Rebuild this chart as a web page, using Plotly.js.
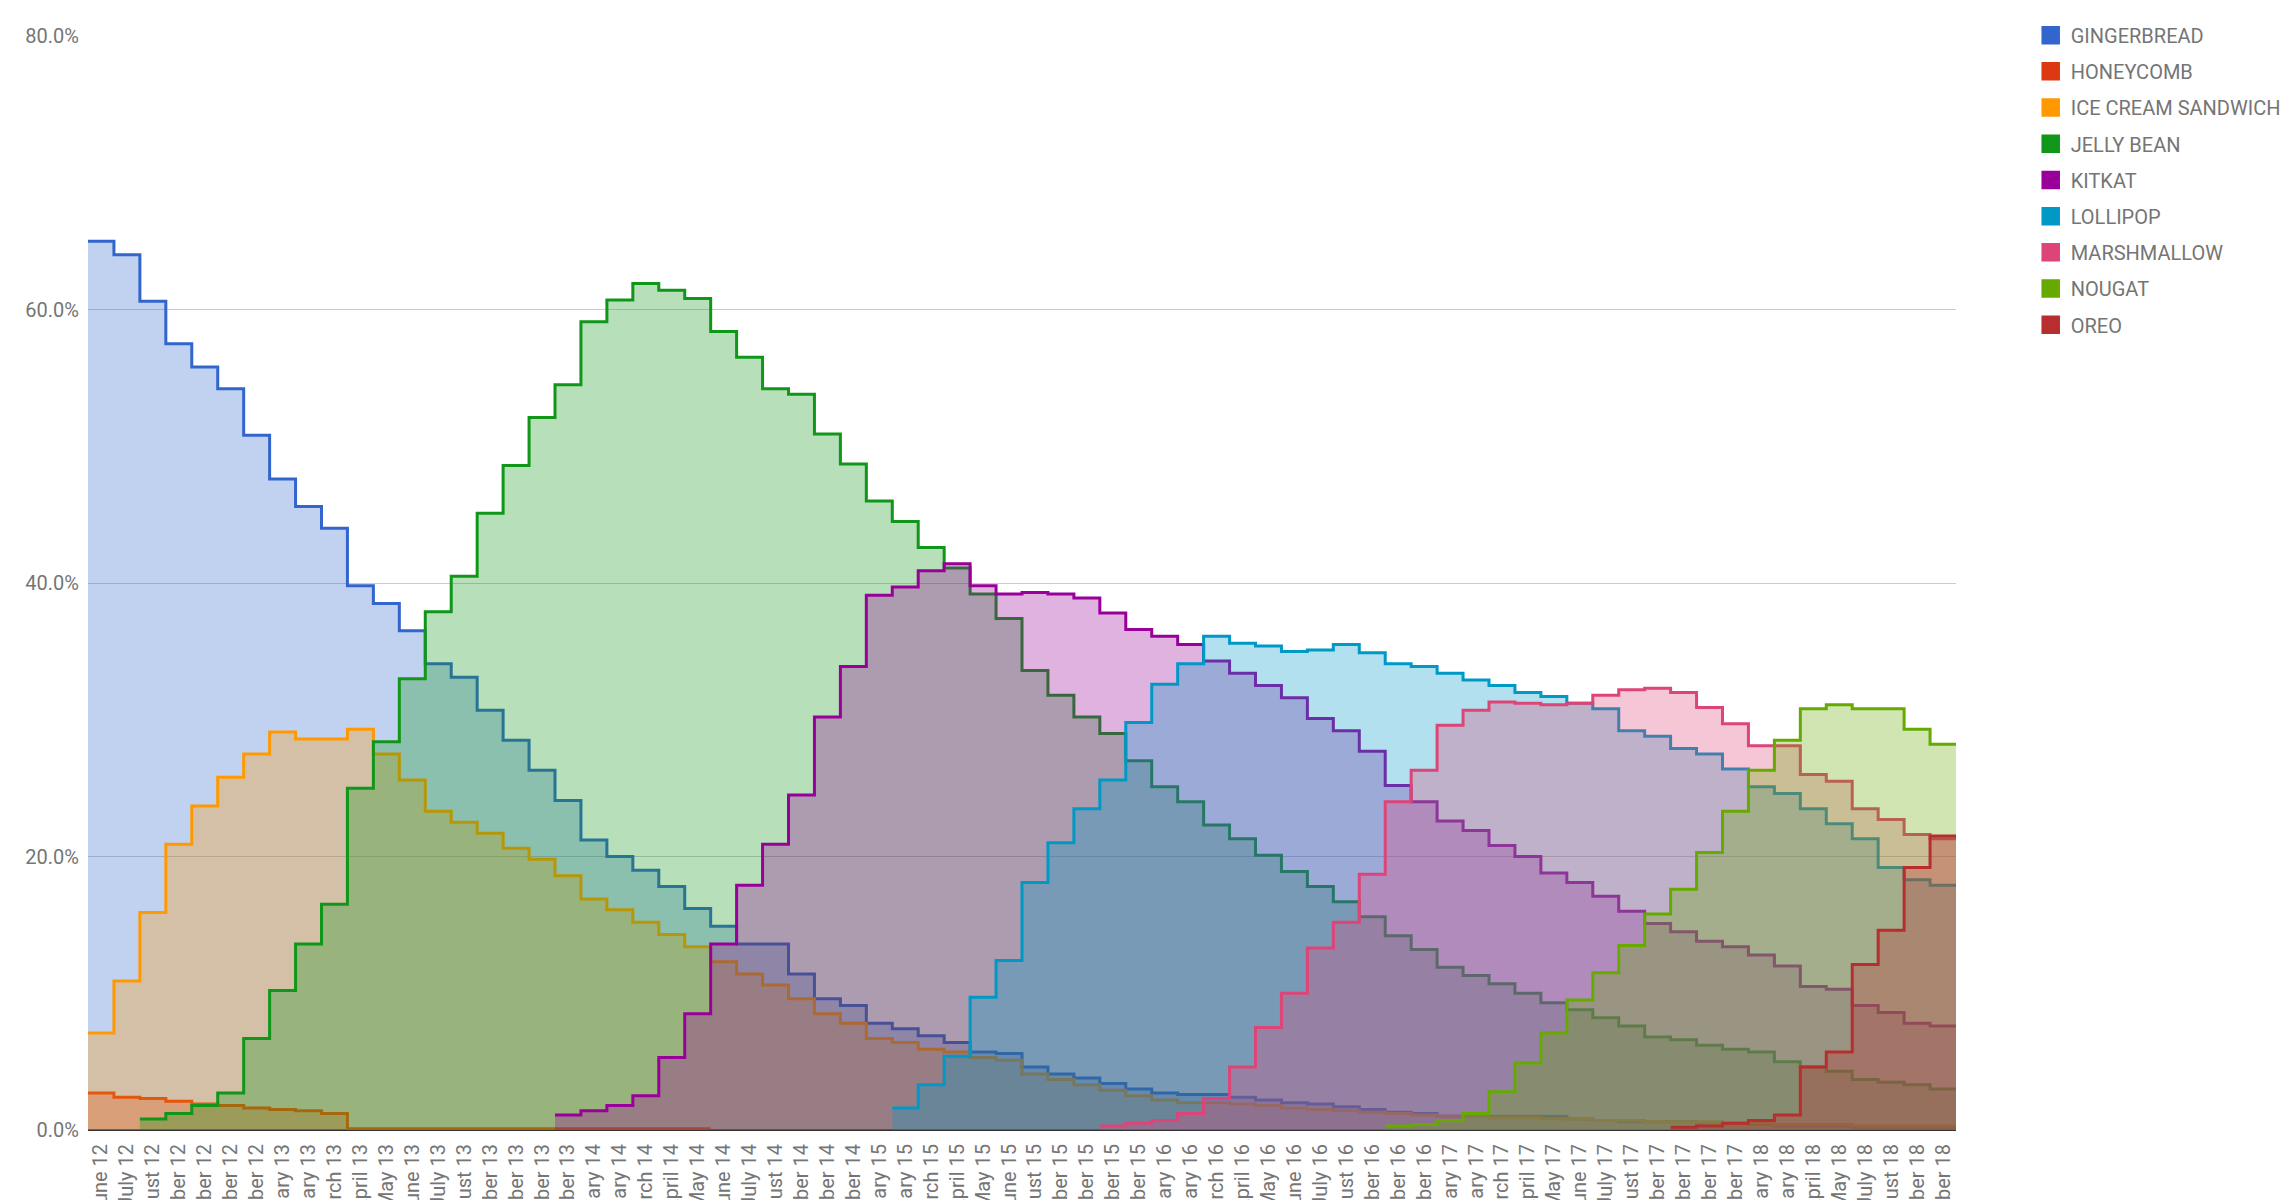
<!DOCTYPE html>
<html>
<head>
<meta charset="utf-8">
<script src="https://cdn.plot.ly/plotly-3.0.1.min.js"></script>
<style>
  html, body { margin: 0; padding: 0; background: #ffffff; }
  #chart { width: 2292px; height: 1200px; }
</style>
</head>
<body>
<div id="chart"></div>
<script>
// ---- Categories (one per dashboard snapshot) ----
const categories = [
  "June 12","July 12","August 12","September 12","October 12","November 12","December 12",
  "January 13","February 13","March 13","April 13","May 13","June 13","July 13","August 13","September 13","October 13","November 13","December 13",
  "January 14","February 14","March 14","April 14","May 14","June 14","July 14","August 14","September 14","November 14","December 14",
  "January 15","February 15","March 15","April 15","May 15","June 15","August 15","September 15","October 15","November 15","December 15",
  "January 16","February 16","March 16","April 16","May 16","June 16","July 16","August 16","September 16","November 16","December 16",
  "January 17","February 17","March 17","April 17","May 17","June 17","July 17","August 17","September 17","October 17","November 17","December 17",
  "January 18","February 18","April 18","May 18","July 18","August 18","September 18","October 18"
];

// ---- Series values (percent share) ----
const gingerbread = [65.0,64.0,60.6,57.5,55.8,54.2,50.8,47.6,45.6,44.0,
  39.8,38.5,36.5,34.1,33.1,30.7,28.5,26.3,24.1,
  21.2,20.0,19.0,17.8,16.2,14.9,13.6,13.6,11.4,9.6,9.1,
  7.8,7.4,6.9,6.4,5.7,5.6,4.6,4.1,3.8,3.4,3.0,
  2.7,2.6,2.6,2.4,2.2,2.0,1.9,1.7,1.5,1.3,1.2,
  1.0,1.0,1.0,1.0,1.0,0.8,0.7,0.6,0.6,0.6,0.5,0.5,
  0.4,0.3,0.3,0.3,0.2,0.2,0.2,0.2];

const honeycomb = [2.7,2.4,2.3,2.1,1.9,1.8,1.6,1.5,1.4,1.2,
  0.1,0.1,0.1,0.1,0.1,0.1,0.1,0.1,0.1,0.1,0.1,0.1,0.1,0.1,
  null,null,null,null,null,null,null,null,null,null,null,null,null,null,null,null,
  null,null,null,null,null,null,null,null,null,null,null,null,null,null,null,null,
  null,null,null,null,null,null,null,null,null,null,null,null,null,null,null,null];

const iceCreamSandwich = [7.1,10.9,15.9,20.9,23.7,25.8,27.5,29.1,28.6,28.6,
  29.3,27.5,25.6,23.3,22.5,21.7,20.6,19.8,18.6,
  16.9,16.1,15.2,14.3,13.4,12.3,11.4,10.6,9.6,8.5,7.8,
  6.7,6.4,5.9,5.7,5.3,5.1,4.1,3.7,3.3,2.9,2.5,
  2.2,2.0,2.0,1.9,1.8,1.6,1.5,1.4,1.3,1.2,1.1,
  1.0,1.0,0.9,0.9,0.8,0.8,0.7,0.7,0.6,0.6,0.6,0.5,
  0.5,0.4,0.4,0.4,0.3,0.3,0.3,0.3];

const jellyBean = [null,null,0.8,1.2,1.8,2.7,6.7,10.2,13.6,16.5,
  25.0,28.4,33.0,37.9,40.5,45.1,48.6,52.1,54.5,
  59.1,60.7,61.9,61.4,60.8,58.4,56.5,54.2,53.8,50.9,48.7,
  46.0,44.5,42.6,41.1,39.2,37.4,33.6,31.8,30.2,29.0,27.0,
  25.1,24.0,22.3,21.3,20.1,18.9,17.8,16.7,15.6,14.2,13.2,
  11.9,11.3,10.7,10.0,9.3,8.8,8.2,7.6,6.8,6.6,6.2,5.9,
  5.7,5.0,4.6,4.3,3.7,3.5,3.3,3.0];

const kitkat = [null,null,null,null,null,null,null,null,null,null,
  null,null,null,null,null,null,null,null,
  1.1,1.4,1.8,2.5,5.3,8.5,13.6,17.9,20.9,24.5,30.2,33.9,
  39.1,39.7,40.9,41.4,39.8,39.2,39.3,39.2,38.9,37.8,36.6,
  36.1,35.5,34.3,33.4,32.5,31.6,30.1,29.2,27.7,25.2,24.0,
  22.6,21.9,20.8,20.0,18.8,18.1,17.1,16.0,15.1,14.5,13.8,13.4,
  12.8,12.0,10.5,10.3,9.1,8.6,7.8,7.6];

const lollipop = [null,null,null,null,null,null,null,null,null,null,
  null,null,null,null,null,null,null,null,null,null,
  null,null,null,null,null,null,null,null,null,null,null,
  1.6,3.3,5.4,9.7,12.4,18.1,21.0,23.5,25.6,29.8,
  32.6,34.1,36.1,35.6,35.4,35.0,35.1,35.5,34.9,34.1,33.9,
  33.4,32.9,32.5,32.0,31.7,31.2,30.8,29.2,28.8,27.9,27.5,26.4,
  25.1,24.6,23.5,22.4,21.3,19.2,18.3,17.9];

const marshmallow = [null,null,null,null,null,null,null,null,null,null,
  null,null,null,null,null,null,null,null,null,null,
  null,null,null,null,null,null,null,null,null,null,
  null,null,null,null,null,null,null,null,null,
  0.3,0.5,
  0.7,1.2,2.3,4.6,7.5,10.0,13.3,15.2,18.7,24.0,26.3,
  29.6,30.7,31.3,31.2,31.1,31.2,31.8,32.2,32.3,32.0,30.9,29.7,
  28.1,28.1,26.0,25.5,23.5,22.7,21.6,21.3];

const nougat = [null,null,null,null,null,null,null,null,null,null,
  null,null,null,null,null,null,null,null,null,null,
  null,null,null,null,null,null,null,null,null,null,
  null,null,null,null,null,null,null,null,null,null,
  null,null,null,null,null,null,null,null,null,null,
  0.3,0.4,
  0.7,1.2,2.8,4.9,7.1,9.5,11.5,13.5,15.8,17.6,20.3,23.3,
  26.3,28.5,30.8,31.1,30.8,30.8,29.3,28.2];

const oreo = [null,null,null,null,null,null,null,null,null,null,
  null,null,null,null,null,null,null,null,null,null,
  null,null,null,null,null,null,null,null,null,null,
  null,null,null,null,null,null,null,null,null,null,
  null,null,null,null,null,null,null,null,null,null,
  null,null,null,null,null,null,null,null,null,null,null,
  0.2,0.3,0.5,
  0.7,1.1,4.6,5.7,12.1,14.6,19.2,21.5];

const seriesNames = ["GINGERBREAD","HONEYCOMB","ICE CREAM SANDWICH","JELLY BEAN","KITKAT","LOLLIPOP","MARSHMALLOW","NOUGAT","OREO"];
const seriesValues = [gingerbread, honeycomb, iceCreamSandwich, jellyBean, kitkat, lollipop, marshmallow, nougat, oreo];
const seriesColors = ["#3366cc","#dc3912","#ff9900","#109618","#990099","#0099c6","#dd4477","#66aa00","#b82e2e"];

const yTicks = [0, 20, 40, 60, 80];

function hexToRgba(hex, a) {
  const n = parseInt(hex.slice(1), 16);
  return "rgba(" + ((n >> 16) & 255) + "," + ((n >> 8) & 255) + "," + (n & 255) + "," + a + ")";
}

// Each category occupies one band [i-0.5, i+0.5]; stepped line through band edges.
function stepped(values) {
  const xs = [], ys = [];
  let last = -1;
  values.forEach((v, i) => {
    if (v === null) return;
    xs.push(i - 0.5); ys.push(v); last = i;
  });
  if (last >= 0) { xs.push(last + 0.5); ys.push(values[last]); }
  return {xs, ys};
}

const traces = [];
seriesValues.forEach((vals, k) => {
  const s = stepped(vals);
  traces.push({
    type: "scatter", mode: "lines", name: seriesNames[k],
    x: s.xs, y: s.ys,
    line: {shape: "hv", color: seriesColors[k], width: 3},
    fill: "tozeroy", fillcolor: hexToRgba(seriesColors[k], 0.3),
    showlegend: false, hoverinfo: "skip"
  });
});
// Legend entries (square swatches)
seriesNames.forEach((name, k) => {
  traces.push({
    type: "scatter", mode: "markers", name: name,
    x: [null], y: [null],
    marker: {symbol: "square", size: 16, color: seriesColors[k],
             line: {color: seriesColors[k], width: 2.5}},
    legendgroup: "g" + k, showlegend: true
  });
});

const layout = {
  width: 2292, height: 1200,
  margin: {l: 88, r: 336, t: 36, b: 70, pad: 0, autoexpand: false},
  paper_bgcolor: "#ffffff", plot_bgcolor: "#ffffff",
  font: {family: "Roboto, 'Open Sans', sans-serif", size: 20, color: "#757575"},
  showlegend: true,
  legend: {
    x: 1.040, xanchor: "left", y: 1.0186, yanchor: "top",
    font: {family: "Roboto, sans-serif", size: 20, color: "#757575"},
    tracegroupgap: 7.2, itemwidth: 30, bgcolor: "rgba(0,0,0,0)"
  },
  xaxis: {
    type: "linear", range: [-0.5, categories.length - 0.5],
    tickmode: "array", tickvals: categories.map((c, i) => i), ticktext: categories,
    tickangle: -90, showgrid: false, zeroline: false, showline: false, ticks: "",
    tickfont: {family: "Roboto, sans-serif", size: 20, color: "#757575"},
    automargin: false, fixedrange: true, ticklabelstandoff: 9
  },
  yaxis: {
    range: [0, 80], tickmode: "array", tickvals: yTicks,
    ticktext: yTicks.map(v => v.toFixed(1) + "%"),
    showgrid: true, gridcolor: "#cccccc", gridwidth: 1,
    zeroline: true, zerolinecolor: "#333333", zerolinewidth: 2,
    showline: false, ticks: "",
    tickfont: {family: "Roboto, sans-serif", size: 20, color: "#757575"},
    automargin: false, fixedrange: true, ticklabelstandoff: 8
  }
};

Plotly.newPlot("chart", traces, layout, {displayModeBar: false, staticPlot: true});
</script>
</body>
</html>
